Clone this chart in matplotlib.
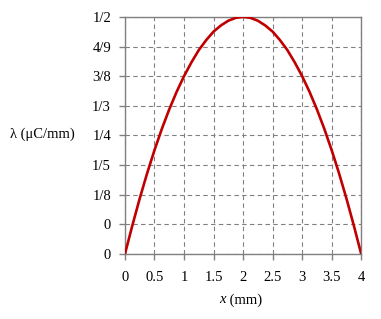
import matplotlib.pyplot as plt

# values (x in mm, lambda in uC/mm)
x_mm = [0, 0.125, 0.25, 0.375, 0.5, 0.625, 0.75, 0.875, 1, 1.125, 1.25, 1.375, 1.5, 1.625,
        1.75, 1.875, 2, 2.125, 2.25, 2.375, 2.5, 2.625, 2.75, 2.875, 3, 3.125, 3.25, 3.375,
        3.5, 3.625, 3.75, 3.875, 4]
lam = [0, 0.060, 0.117, 0.170, 0.219, 0.264, 0.305, 0.342, 0.375, 0.404, 0.430, 0.451,
       0.469, 0.482, 0.492, 0.498, 0.5, 0.498, 0.492, 0.482, 0.469, 0.451, 0.430, 0.404,
       0.375, 0.342, 0.305, 0.264, 0.219, 0.170, 0.117, 0.060, 0]

x_ticks = [0, 0.5, 1, 1.5, 2, 2.5, 3, 3.5, 4]
x_tick_labels = ["0", "0.5", "1", "1.5", "2", "2.5", "3", "3.5", "4"]
y_ticks = [0, 0.0625, 0.125, 0.1875, 0.25, 0.3125, 0.375, 0.4375, 0.5]
y_tick_labels = ["0", "0", "1/8", "1/5", "1/4", "1/3", "3/8", "4/9", "1/2"]

plt.rcParams['font.family'] = ['Liberation Serif', 'DejaVu Serif']
plt.rcParams['font.size'] = 10.5

fig = plt.figure(figsize=(3.81, 3.19), dpi=100)
ax = fig.add_axes([0.328, 0.204, 0.62, 0.743])

ax.plot(x_mm, lam, color='#C00000', lw=1.9, zorder=3)

ax.set_xlim(0, 4)
ax.set_ylim(0, 0.5)
ax.set_xticks(x_ticks)
ax.set_xticklabels(x_tick_labels)
ax.set_yticks(y_ticks)
ax.set_yticklabels(y_tick_labels)

ax.grid(True, color='#808080', linestyle=(0, (4, 3)), lw=0.8)
for s in ax.spines.values():
    s.set_color('#808080')
    s.set_linewidth(1.0)
ax.tick_params(direction='out', length=4, color='#808080', width=1.0)
ax.tick_params(axis='x', pad=8)
ax.tick_params(axis='y', pad=6)

# axis titles, x is italic
fig.text(0.593, 0.06, "x", style='italic', ha='right', va='center')
fig.text(0.594, 0.06, " (mm)", ha='left', va='center')
fig.text(0.026, 0.58, "λ (μC/mm)", ha='left', va='center')

fig.savefig("out.png", dpi=100)
